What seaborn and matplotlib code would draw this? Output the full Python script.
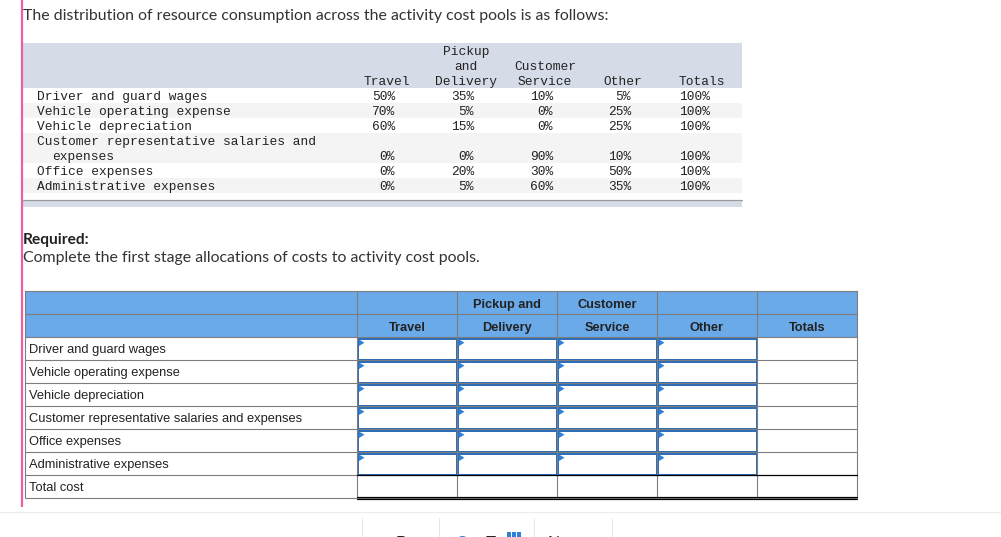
import numpy as np
import pandas as pd
import matplotlib
matplotlib.use('Agg')
import matplotlib.pyplot as plt
from matplotlib.patches import Rectangle, Polygon
import seaborn as sns

# resource consumption table (percent)
cost_items = ['Driver and guard wages', 'Vehicle operating expense', 'Vehicle depreciation',
              'Customer representative salaries and expenses', 'Office expenses',
              'Administrative expenses']
pools = ['Travel', 'Pickup and Delivery', 'Customer Service', 'Other', 'Totals']
travel = [50, 70, 60, 0, 0, 0]
pickup = [35, 5, 15, 0, 20, 5]
customer = [10, 0, 0, 90, 30, 60]
other = [5, 25, 25, 10, 50, 35]
totals = [100, 100, 100, 100, 100, 100]

df = pd.DataFrame({'Travel': travel, 'Pickup and Delivery': pickup,
                   'Customer Service': customer, 'Other': other, 'Totals': totals},
                  index=cost_items)

title = 'The distribution of resource consumption across the activity cost pools is as follows:'
req_head = 'Required:'
req_text = 'Complete the first stage allocations of costs to activity cost pools.'

sns.set_theme(style='white')
MONO = 'Liberation Mono'
SANS = 'Liberation Sans'
BODY = 'Lato'
INK = '#222222'

fig = plt.figure(figsize=(10.01, 5.37), dpi=100)
ax = fig.add_axes([0, 0, 1, 1])
ax.set_xlim(0, 1001)
ax.set_ylim(537, 0)
ax.axis('off')

px = 72 / 100  # one pixel in points

# left pink bar
ax.plot([22, 22], [0, 507], color='#ec5fa6', lw=2.2 * px, solid_capstyle='butt')

ax.text(23, 20, title, family=BODY, fontsize=11.4, color='#333333', va='baseline')

# ---- top table ----
left, right = 22, 742
ax.add_patch(Rectangle((left, 43), right - left, 45, color='#d5dbe7', lw=0))
row_h = 15
row_lines = [1, 1, 1, 2, 1, 1]
y = 88
row_top = []
for i, n in enumerate(row_lines):
    fc = '#ffffff' if i % 2 == 0 else '#f4f4f4'
    ax.add_patch(Rectangle((left, y), right - left, n * row_h, color=fc, lw=0))
    row_top.append(y)
    y += n * row_h
ax.add_patch(Rectangle((left, 200), right - left, 7, color='#d5dbe7', lw=0))
ax.plot([left, right], [200, 200], color='#9a9a9a', lw=1.2 * px)

mono_fs = 9.3
head_centers = [387, 466, 545, 623, 702]
head_lines = [['Travel'], ['Pickup', 'and', 'Delivery'], ['Customer', 'Service'], ['Other'], ['Totals']]
for cx, lines in zip(head_centers, head_lines):
    for k, s in enumerate(reversed(lines)):
        ax.text(cx, 85 - 15 * k, s, family=MONO, fontsize=mono_fs, color=INK,
                ha='center', va='baseline')

for i, item in enumerate(cost_items):
    yb = row_top[i] + 12
    if row_lines[i] == 2:
        ax.text(37, yb, 'Customer representative salaries and', family=MONO,
                fontsize=mono_fs, color=INK, va='baseline')
        ax.text(52, yb + 15, 'expenses', family=MONO, fontsize=mono_fs, color=INK, va='baseline')
        yb = yb + 15
    else:
        ax.text(37, yb, item, family=MONO, fontsize=mono_fs, color=INK, va='baseline')
    for cx, col in zip(head_centers, pools):
        ax.text(cx + 8, yb, f'{df.loc[item, col]}%', family=MONO, fontsize=mono_fs,
                color=INK, ha='right', va='baseline')

ax.text(23, 244, req_head, family=BODY, fontsize=11.2, fontweight='bold', color=INK, va='baseline')
ax.text(23, 262, req_text, family=BODY, fontsize=11.4, color='#333333', va='baseline')

# ---- answer table ----
col_x = [25, 357, 457, 557, 657, 757, 857]
top = 291
hdr_h = 23
cell_h = 23
body_rows = cost_items + ['Total cost']
bottom = top + 2 * hdr_h + cell_h * len(body_rows)
grid = '#7d7d7d'

ax.add_patch(Rectangle((col_x[0], top), col_x[-1] - col_x[0], 2 * hdr_h, color='#6aaae8', lw=0))

hdr1 = ['', 'Pickup and', 'Customer', '', '']
hdr2 = ['Travel', 'Delivery', 'Service', 'Other', 'Totals']
for j in range(5):
    cx = (col_x[j + 1] + col_x[j + 2]) / 2
    ax.text(cx, top + 17, hdr1[j], family=SANS, fontsize=9.2, fontweight='bold',
            color=INK, ha='center', va='baseline')
    ax.text(cx, top + hdr_h + 17, hdr2[j], family=SANS, fontsize=9.2, fontweight='bold',
            color=INK, ha='center', va='baseline')

# horizontal grid lines
for k in range(len(body_rows) + 3):
    yy = top + min(k, 2) * hdr_h + max(k - 2, 0) * cell_h
    ax.plot([col_x[0], col_x[-1]], [yy, yy], color=grid, lw=1.1 * px)
# vertical grid lines
for xx in col_x:
    ax.plot([xx, xx], [top, bottom], color=grid, lw=1.1 * px)

for i, lab in enumerate(body_rows):
    y0 = top + 2 * hdr_h + i * cell_h
    ax.text(col_x[0] + 4, y0 + 16, lab, family=SANS, fontsize=9.3, color=INK, va='baseline')
    if i < len(cost_items):
        for j in range(1, 5):
            x0 = col_x[j]
            ax.add_patch(Rectangle((x0 + 1, y0 + 1.5), 98.5, 21, fill=False,
                                   edgecolor='#2c6fba', lw=2 * px))
            ax.add_patch(Polygon([(x0 + 2, y0 + 2.5), (x0 + 2, y0 + 9), (x0 + 7.5, y0 + 5.7)],
                                 closed=True, color='#2f80d8', lw=0))

# total cost row rules
yt = top + 2 * hdr_h + len(cost_items) * cell_h
ax.plot([col_x[1], col_x[-1]], [yt, yt], color='black', lw=1.2 * px)
ax.plot([col_x[1], col_x[-1]], [bottom - 1.5, bottom - 1.5], color='black', lw=1.2 * px)
ax.plot([col_x[1], col_x[-1]], [bottom + 1.2, bottom + 1.2], color='black', lw=1.2 * px)

# footer strip (navigation buttons, cut off at the bottom edge as in the source)
ax.plot([0, 1001], [512, 512], color='#ececec', lw=1.2 * px)
for xx in [362, 439, 534, 612]:
    ax.plot([xx, xx], [518, 537], color='#e6e6e6', lw=1 * px)
ax.text(379, 547, '\u2039', family=SANS, fontsize=14, color='#2f80d8', va='baseline')
ax.text(396, 548, 'Prev', family=SANS, fontsize=12, color=INK, va='baseline')
ax.text(455, 548, 'C', family=SANS, fontsize=12, color='#2f80d8', va='baseline')
ax.text(486, 548, 'T', family=SANS, fontsize=12, color=INK, va='baseline')
for xx in [507, 512, 517]:
    ax.add_patch(Rectangle((xx, 532), 4, 6, color='#2f80d8', lw=0))
ax.text(548, 548, 'Next', family=SANS, fontsize=12, color=INK, va='baseline')
ax.text(586, 547, '\u203a', family=SANS, fontsize=14, color='#2f80d8', va='baseline')

fig.savefig('out.png', dpi=100, facecolor='white')
